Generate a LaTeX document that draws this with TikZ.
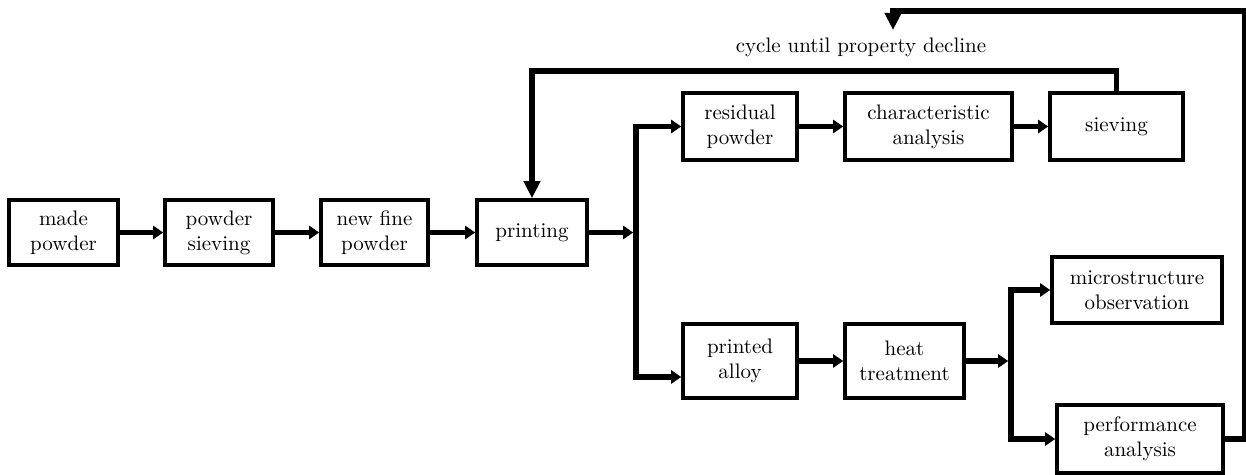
\documentclass[tikz,border=0pt]{standalone}
\usepackage{tikz}
\usetikzlibrary{arrows.meta,positioning}
\tikzset{
  caja/.style={draw,line width=1.8pt,align=center,inner sep=1pt,
    font=\fontsize{10.5}{12.5}\selectfont},
  flecha/.style={-{Triangle[length=5pt,width=6.5pt]},line width=2.8pt},
  flechag/.style={-{Triangle[length=8.5pt,width=8pt]},line width=2.8pt}
}

\begin{document}
\begin{tikzpicture}[x=0.5pt,y=-0.5pt]
\useasboundingbox (0,0) rectangle (1246,475);
% main line
\node[caja,minimum width=54.5pt,minimum height=32.5pt] (hecho) at (63.5,232.5) {made\\powder};
\node[caja,minimum width=54pt,minimum height=32.5pt] (tamiz) at (219,232.5) {powder\\sieving};
\node[caja,minimum width=53.5pt,minimum height=32.5pt] (fino) at (374.5,232.5) {new fine\\powder};
\node[caja,minimum width=55pt,minimum height=32.5pt] (impr) at (532,232.5) {printing};
% upper branch
\node[caja,minimum width=57pt,minimum height=33.5pt] (resid) at (740,126.5) {residual\\powder};
\node[caja,minimum width=83.5pt,minimum height=33.5pt] (carac) at (928.5,126.5) {characteristic\\analysis};
\node[caja,minimum width=66.5pt,minimum height=33.5pt] (cribado) at (1116.5,126.5) {sieving};
% lower branch
\node[caja,minimum width=57pt,minimum height=37pt] (aleac) at (740,361) {printed\\alloy};
\node[caja,minimum width=59.5pt,minimum height=37pt] (trat) at (904.5,361) {heat\\treatment};
\node[caja,minimum width=85pt,minimum height=33pt] (micro) at (1137,290) {microstructure\\observation};
\node[caja,minimum width=83pt,minimum height=34pt] (prop) at (1140,439) {performance\\analysis};
\node[font=\fontsize{10.5}{12.5}\selectfont] (ciclo) at (861,47) {cycle until property decline};

\coordinate (b1) at (636,232.5);
\coordinate (b2) at (1011,361);
\coordinate (arriba) at (893,11);

\draw[flecha] (hecho) -- (tamiz);
\draw[flecha] (tamiz) -- (fino);
\draw[flecha] (fino) -- (impr);
\draw[flecha] (impr) -- ([xshift=-1.4pt]b1);
\draw[flecha] ([yshift=-8pt]b1|-aleac.west) -- (b1|-resid.west) -- (resid.west);
\draw[flecha] (b1|-resid.west) -- ([yshift=-8pt]b1|-aleac.west) -- ([yshift=-8pt]aleac.west);
\draw[flecha] (resid) -- (carac);
\draw[flecha] (carac) -- (cribado);
\draw[flecha] (aleac) -- (trat);
\draw[flecha] (trat) -- ([xshift=-1.4pt]b2);
\draw[flecha] (b2|-prop.west) -- (b2|-micro.west) -- (micro.west);
\draw[flecha] (b2|-micro.west) -- (b2|-prop.west) -- (prop.west);
% recycling loops
\draw[flechag] (cribado.north) -- ++(0,-20) -| (impr.north);
\draw[flechag] (prop.east) -- ++(20,0) |- (arriba) -- ++(0,19);
\end{tikzpicture}
\end{document}
